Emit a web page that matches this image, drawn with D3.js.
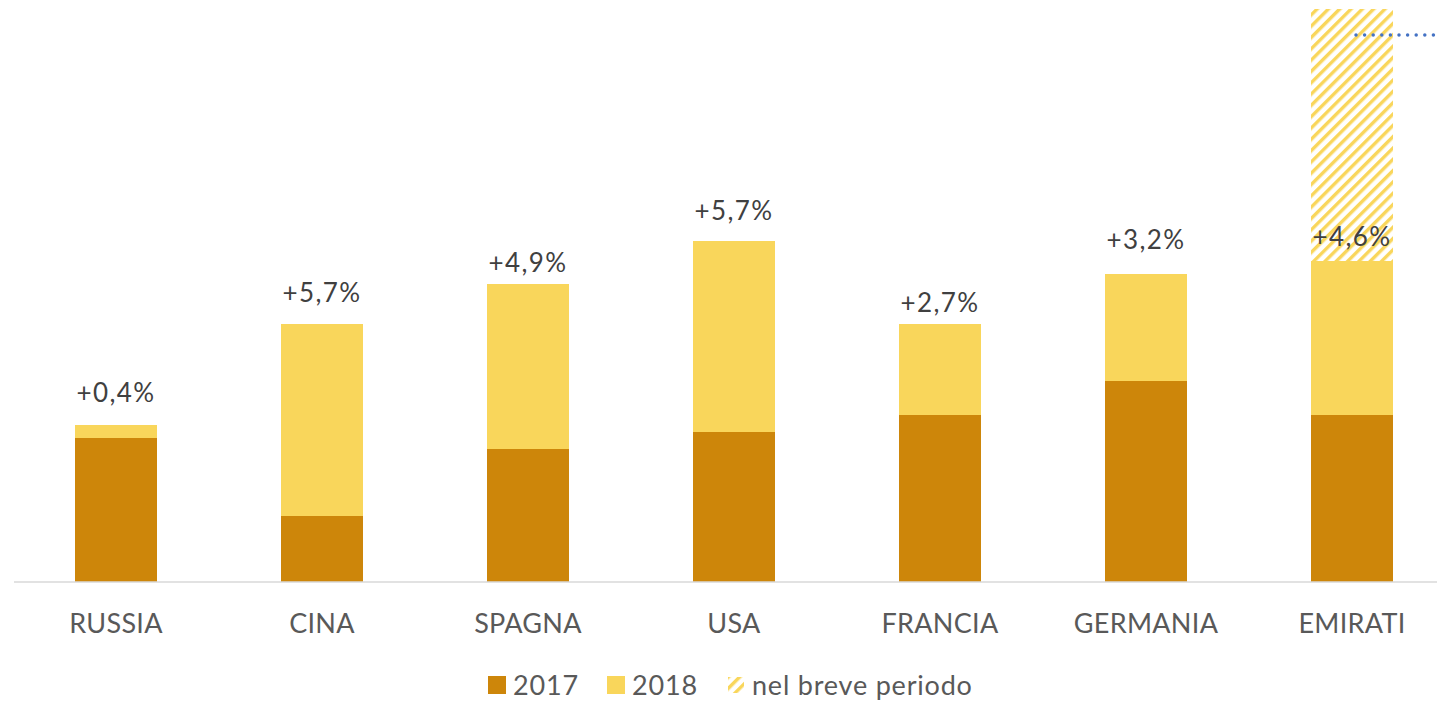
<!DOCTYPE html>
<html>
<head>
<meta charset="utf-8">
<script src="https://cdn.jsdelivr.net/npm/d3@7"></script>
<style>
  body { margin: 0; background: #fff; }
  svg { display: block; font-family: Lato, "Open Sans", sans-serif; }
</style>
</head>
<body>
<svg id="chart" width="1437" height="702"></svg>
<script>
// data (arbitrary units, baseline = 0)
const paesi = ["RUSSIA", "CINA", "SPAGNA", "USA", "FRANCIA", "GERMANIA", "EMIRATI"];
const valori2017 = [144, 66, 133, 150, 167, 201, 167];
const valori2018 = [13, 192, 165, 191, 91, 107, 154];
const brevePeriodo = [0, 0, 0, 0, 0, 0, 252];
const etichette = ["+0,4%", "+5,7%", "+4,9%", "+5,7%", "+2,7%", "+3,2%", "+4,6%"];
const livelloEtichette = [180, 280, 310, 362, 270, 333, 336];
const lineaValore = 547;
const legenda = ["2017", "2018", "nel breve periodo"];

const colori = { c2017: "#CD860A", c2018: "#F9D65B", linea: "#4472C4" };

const svg = d3.select("#chart");
const W = 1437;

const x = d3.scaleBand()
  .domain(paesi)
  .range([13, 1455])
  .paddingInner(0.602)
  .paddingOuter(0.301);

const y = d3.scaleLinear()
  .domain([0, 573])
  .range([582, 9]);

// hatch pattern
const defs = svg.append("defs");
const pat = defs.append("pattern")
  .attr("id", "tratteggio")
  .attr("patternUnits", "userSpaceOnUse")
  .attr("width", 8)
  .attr("height", 8)
  .attr("patternTransform", "rotate(45)");
pat.append("rect").attr("width", 8).attr("height", 8).attr("fill", "#fff");
pat.append("rect").attr("x", 0).attr("width", 3.4).attr("height", 8).attr("fill", colori.c2018);

const righe = paesi.map((p, i) => ({
  paese: p,
  a: valori2017[i],
  b: valori2018[i],
  c: brevePeriodo[i],
  label: etichette[i],
  lv: livelloEtichette[i]
}));

const g = svg.append("g");

// 2017
g.selectAll("rect.a").data(righe).enter().append("rect")
  .attr("class", "a")
  .attr("x", d => x(d.paese))
  .attr("width", x.bandwidth())
  .attr("y", d => y(d.a))
  .attr("height", d => y(0) - y(d.a))
  .attr("fill", colori.c2017);

// 2018
g.selectAll("rect.b").data(righe).enter().append("rect")
  .attr("class", "b")
  .attr("x", d => x(d.paese))
  .attr("width", x.bandwidth())
  .attr("y", d => y(d.a + d.b))
  .attr("height", d => y(d.a) - y(d.a + d.b))
  .attr("fill", colori.c2018);

// nel breve periodo
g.selectAll("rect.c").data(righe.filter(d => d.c > 0)).enter().append("rect")
  .attr("class", "c")
  .attr("x", d => x(d.paese))
  .attr("width", x.bandwidth())
  .attr("y", d => y(d.a + d.b + d.c))
  .attr("height", d => y(d.a + d.b) - y(d.a + d.b + d.c))
  .attr("fill", "url(#tratteggio)");

// axis line
svg.append("line")
  .attr("x1", 14).attr("x2", W)
  .attr("y1", y(0)).attr("y2", y(0))
  .attr("stroke", "#d9d9d9")
  .attr("stroke-width", 1.5);

// category labels
const asse = svg.append("g")
  .attr("transform", `translate(0,${y(0)})`)
  .call(d3.axisBottom(x).tickSize(0).tickPadding(0));
asse.select(".domain").remove();
asse.selectAll("text")
  .attr("y", 51)
  .attr("dy", 0)
  .attr("font-size", 27)
  .attr("letter-spacing", 0.3)
  .attr("font-family", "Lato, sans-serif")
  .attr("fill", "#595959");

// value labels
g.selectAll("text.val").data(righe).enter().append("text")
  .attr("class", "val")
  .attr("x", d => x(d.paese) + x.bandwidth() / 2)
  .attr("y", d => y(d.lv))
  .attr("text-anchor", "middle")
  .attr("font-size", 26)
  .attr("letter-spacing", 1.4)
  .attr("fill", "#404040")
  .text(d => d.label);

// dotted line (secondary series)
const ultimo = paesi[paesi.length - 1];
svg.append("line")
  .attr("x1", x(ultimo) + x.bandwidth() / 2 + 4)
  .attr("x2", W + 10)
  .attr("y1", y(lineaValore)).attr("y2", y(lineaValore))
  .attr("stroke", colori.linea)
  .attr("stroke-width", 3.5)
  .attr("stroke-linecap", "round")
  .attr("stroke-dasharray", "0 8.6");

// legend
const leg = svg.append("g").attr("font-size", 27).attr("letter-spacing", 0.8).attr("fill", "#595959");
const legX = [488, 607, 727];
legenda.forEach((t, i) => {
  const gi = leg.append("g").attr("transform", `translate(${legX[i]},676)`);
  if (i < 2) {
    gi.append("rect").attr("width", 18).attr("height", 18)
      .attr("fill", i === 0 ? colori.c2017 : colori.c2018);
  } else {
    gi.append("rect").attr("x", 1).attr("y", 1).attr("width", 16).attr("height", 16)
      .attr("fill", "url(#tratteggio)");
  }
  gi.append("text").attr("x", 25).attr("y", 18.5).text(t);
});
</script>
</body>
</html>
